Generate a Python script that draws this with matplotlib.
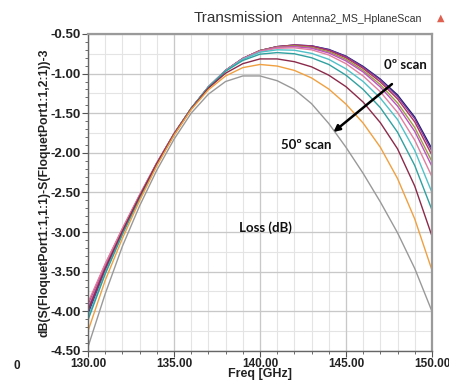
import numpy as np
import matplotlib
matplotlib.use("Agg")
import matplotlib.pyplot as plt
from matplotlib.ticker import MultipleLocator, FormatStrFormatter

freq = np.arange(130, 151, 1)

scan_0 = [-4.03, -3.48, -3.00, -2.56, -2.14, -1.77, -1.44, -1.17, -0.96, -0.81, -0.71,
          -0.66, -0.64, -0.65, -0.695, -0.78, -0.91, -1.07, -1.27, -1.55, -1.95]
scan_5 = [-4.01, -3.47, -3.00, -2.56, -2.14, -1.76, -1.44, -1.17, -0.96, -0.81, -0.71,
          -0.66, -0.64, -0.65, -0.70, -0.785, -0.92, -1.08, -1.29, -1.57, -1.98]
scan_10 = [-3.91, -3.41, -2.96, -2.535, -2.13, -1.76, -1.44, -1.17, -0.96, -0.81, -0.71,
           -0.66, -0.64, -0.655, -0.71, -0.80, -0.935, -1.105, -1.32, -1.61, -2.03]
scan_15 = [-3.98, -3.45, -2.99, -2.55, -2.135, -1.76, -1.44, -1.17, -0.96, -0.81, -0.71,
           -0.665, -0.65, -0.67, -0.725, -0.82, -0.96, -1.14, -1.37, -1.68, -2.11]
scan_20 = [-3.96, -3.44, -2.98, -2.545, -2.13, -1.76, -1.44, -1.17, -0.96, -0.81, -0.715,
           -0.67, -0.66, -0.68, -0.74, -0.84, -0.98, -1.17, -1.41, -1.73, -2.17]
scan_25 = [-3.89, -3.40, -2.955, -2.53, -2.125, -1.76, -1.44, -1.17, -0.96, -0.815, -0.72,
           -0.68, -0.675, -0.70, -0.765, -0.875, -1.03, -1.23, -1.49, -1.84, -2.30]
scan_30 = [-4.08, -3.51, -3.02, -2.57, -2.145, -1.77, -1.44, -1.17, -0.965, -0.82, -0.73,
           -0.70, -0.705, -0.745, -0.82, -0.94, -1.10, -1.31, -1.58, -1.97, -2.50]
scan_35 = [-4.11, -3.53, -3.03, -2.575, -2.15, -1.77, -1.44, -1.175, -0.97, -0.835, -0.755,
           -0.735, -0.75, -0.80, -0.885, -1.02, -1.20, -1.43, -1.74, -2.16, -2.72]
scan_40 = [-3.99, -3.46, -2.99, -2.55, -2.135, -1.765, -1.445, -1.185, -0.995, -0.875, -0.815,
           -0.815, -0.85, -0.915, -1.02, -1.165, -1.36, -1.62, -1.95, -2.42, -3.05]
scan_45 = [-4.25, -3.61, -3.08, -2.605, -2.165, -1.78, -1.455, -1.205, -1.03, -0.925, -0.885,
           -0.905, -0.96, -1.055, -1.195, -1.385, -1.625, -1.93, -2.325, -2.835, -3.48]
scan_50 = [-4.45, -3.78, -3.18, -2.67, -2.22, -1.83, -1.50, -1.26, -1.10, -1.03, -1.03,
           -1.09, -1.20, -1.38, -1.63, -1.93, -2.26, -2.62, -3.01, -3.46, -4.00]

curves = [scan_0, scan_5, scan_10, scan_15, scan_20, scan_25,
          scan_30, scan_35, scan_40, scan_45, scan_50]
colors = ['#1a1a6e', '#7b3fa0', '#b03060', '#9aa040', '#c050c0', '#e07fa0',
          '#50c0c8', '#30a0a0', '#8b2a4a', '#f0a040', '#999999']

xticks = [130, 135, 140, 145, 150]
yticks = [-4.5, -4.0, -3.5, -3.0, -2.5, -2.0, -1.5, -1.0, -0.5]

plt.rcParams['font.family'] = ['Liberation Sans', 'DejaVu Sans']

fig = plt.figure(figsize=(4.49, 3.86), dpi=100)
ax = fig.add_axes([0.196, 0.091, 0.766, 0.821])

# grid: minor every 1 GHz / 0.25 dB, major every 5 GHz / 0.5 dB
for f in range(130, 151):
    ax.axvline(f, color='#e4e4e4', lw=0.8, zorder=0)
for v in np.arange(-4.5, -0.49, 0.25):
    ax.axhline(v, color='#e4e4e4', lw=0.8, zorder=0)
for f in xticks:
    ax.axvline(f, color='#c8c8c8', lw=0.9, zorder=0)
for v in yticks:
    ax.axhline(v, color='#c8c8c8', lw=0.9, zorder=0)

for c, col in zip(curves, colors):
    ax.plot(freq, c, color=col, lw=1.0)

ax.set_xlim(130, 150)
ax.set_ylim(-4.5, -0.5)
ax.set_xticks(xticks)
ax.set_yticks(yticks)
ax.xaxis.set_minor_locator(MultipleLocator(1))
ax.yaxis.set_minor_locator(MultipleLocator(0.1))
ax.xaxis.set_major_formatter(FormatStrFormatter('%.2f'))
ax.yaxis.set_major_formatter(FormatStrFormatter('%.2f'))
ax.tick_params(which='both', direction='out', color='#555555', pad=1)
ax.tick_params(axis='x', labelsize=8.5)
ax.tick_params(axis='y', labelsize=9.5)
ax.tick_params(which='major', length=4)
ax.tick_params(which='minor', length=2.5)
for lab in ax.get_xticklabels() + ax.get_yticklabels():
    lab.set_fontweight('bold')
    lab.set_color('#222222')

for side in ['top', 'right']:
    ax.spines[side].set_color('#9a9a9a')
    ax.spines[side].set_linewidth(1.6)
for side in ['left', 'bottom']:
    ax.spines[side].set_color('#666666')
    ax.spines[side].set_linewidth(1.0)

ax.set_xlabel('Freq [GHz]', fontsize=9, fontweight='bold', labelpad=-1, color='#222222')
ax.set_ylabel('dB(S(FloquetPort1:1,1:1)-S(FloquetPort1:1,2:1))-3', fontsize=8.8,
              fontweight='bold', labelpad=0, color='#222222')

fig.text(0.432, 0.953, 'Transmission', fontsize=11, color='#333333', va='center')
fig.text(0.650, 0.951, 'Antenna2_MS_HplaneScan', fontsize=7.6, color='#333333', va='center')
fig.text(0.982, 0.953, '\u25B2', fontsize=7, color='#e06050', va='center', ha='center',
         family=['DejaVu Sans'])
fig.text(0.030, 0.052, '0', fontsize=8.5, fontweight='bold', color='#222222', va='center')

ann_font = dict(family=['Lato', 'DejaVu Sans'], fontweight='bold', fontsize=9.5, color='#111111')
ax.text(148.45, -0.89, '0\u00ba scan', ha='center', va='center', **ann_font)
ax.text(142.7, -1.90, '50\u00ba scan', ha='center', va='center', **ann_font)
ax.text(140.3, -2.94, 'Loss (dB)', ha='center', va='center', **ann_font)
ax.annotate('', xy=(144.15, -1.76), xytext=(147.8, -1.11),
            arrowprops=dict(arrowstyle='-|>', color='black', lw=1.8, mutation_scale=9))

fig.savefig('out.png', dpi=100)
